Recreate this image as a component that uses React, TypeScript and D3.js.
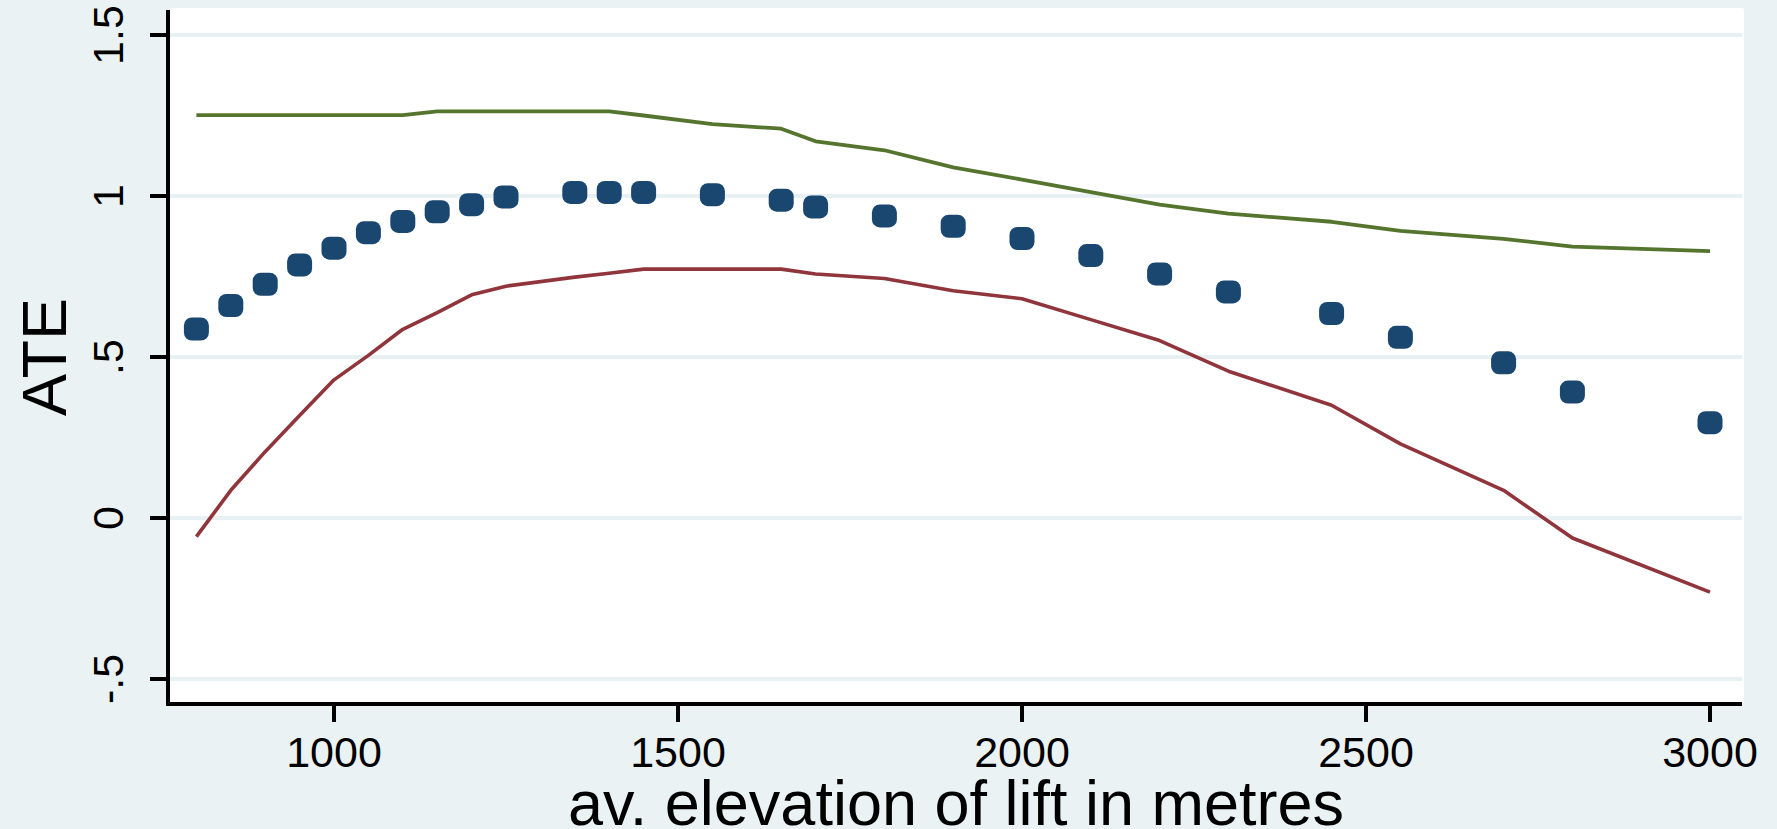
import React from "react";
import * as d3 from "d3";

const elevation = [800, 850, 900, 950, 1000, 1050, 1100, 1150, 1200, 1250, 1350, 1400, 1450, 1550, 1650, 1700, 1800, 1900, 2000, 2100, 2200, 2300, 2450, 2550, 2700, 2800, 3000];
const ate = [0.587, 0.660, 0.726, 0.786, 0.838, 0.886, 0.921, 0.951, 0.973, 0.997, 1.011, 1.011, 1.011, 1.004, 0.987, 0.966, 0.938, 0.906, 0.868, 0.815, 0.758, 0.702, 0.635, 0.561, 0.482, 0.391, 0.296];
const upperCI = [1.251, 1.251, 1.251, 1.251, 1.251, 1.251, 1.251, 1.263, 1.263, 1.263, 1.263, 1.263, 1.250, 1.223, 1.209, 1.170, 1.142, 1.089, 1.051, 1.012, 0.973, 0.945, 0.920, 0.892, 0.867, 0.843, 0.829];
const lowerCI = [-0.058, 0.086, 0.206, 0.318, 0.429, 0.505, 0.586, 0.638, 0.693, 0.720, 0.748, 0.760, 0.773, 0.773, 0.773, 0.758, 0.744, 0.706, 0.681, 0.616, 0.551, 0.456, 0.350, 0.230, 0.086, -0.062, -0.230];

const xTicks = [1000, 1500, 2000, 2500, 3000];
const yTicks = [-0.5, 0, 0.5, 1, 1.5];
const yTickLabels = ["-.5", "0", ".5", "1", "1.5"];
const xTitle = "av. elevation of lift in metres";
const yTitle = "ATE";

const W = 1777;
const H = 829;
const FONT = "'Liberation Sans', Arial, Helvetica, sans-serif";

export default function App() {
  const x = d3.scaleLinear().domain([1000, 3000]).range([334, 1710]);
  const y = d3.scaleLinear().domain([-0.5, 1.5]).range([679, 35]);

  const plotLeft = 168;
  const plotRight = 1744;
  const plotTop = 8;
  const plotBottom = 704;

  const line = d3
    .line<number>()
    .x((_, i) => x(elevation[i]))
    .y((d) => y(d));

  const mw = 25;
  const mh = 23;

  return (
    <svg
      width={W}
      height={H}
      viewBox={`0 0 ${W} ${H}`}
      style={{ position: "absolute", left: 0, top: 0, display: "block" }}
      fontFamily={FONT}
    >
      <rect x={0} y={0} width={W} height={H} fill="#eaf2f3" />
      <rect x={plotLeft} y={plotTop} width={plotRight - plotLeft} height={plotBottom - plotTop} rx={2} fill="#ffffff" />

      {yTicks.map((t) => (
        <line key={"g" + t} x1={plotLeft + 2} x2={plotRight - 2} y1={y(t)} y2={y(t)} stroke="#e7f0f2" strokeWidth={4} />
      ))}

      <path d={line(upperCI) || ""} fill="none" stroke="#55752f" strokeWidth={3.8} strokeLinejoin="round" />
      <path d={line(lowerCI) || ""} fill="none" stroke="#90353b" strokeWidth={3.6} strokeLinejoin="round" />

      {ate.map((v, i) => (
        <rect
          key={"m" + i}
          x={x(elevation[i]) - mw / 2}
          y={y(v) - mh / 2}
          width={mw}
          height={mh}
          rx={8}
          ry={8}
          fill="#1a476f"
        />
      ))}

      {/* axes */}
      <line x1={plotLeft} x2={plotLeft} y1={10} y2={plotBottom + 2} stroke="#000" strokeWidth={4} />
      <line x1={plotLeft - 2} x2={plotRight - 2} y1={plotBottom} y2={plotBottom} stroke="#000" strokeWidth={4} />

      {yTicks.map((t, i) => (
        <g key={"yt" + t}>
          <line x1={plotLeft - 18} x2={plotLeft} y1={y(t)} y2={y(t)} stroke="#000" strokeWidth={4} />
          <text
            transform={`translate(123,${y(t)}) rotate(-90)`}
            textAnchor="middle"
            fontSize={43}
            fill="#000"
          >
            {yTickLabels[i]}
          </text>
        </g>
      ))}

      {xTicks.map((t) => (
        <g key={"xt" + t}>
          <line x1={x(t)} x2={x(t)} y1={plotBottom} y2={plotBottom + 18} stroke="#000" strokeWidth={4} />
          <text x={x(t)} y={767} textAnchor="middle" fontSize={43} fill="#000">
            {t}
          </text>
        </g>
      ))}

      <text x={(plotLeft + plotRight) / 2} y={825} textAnchor="middle" fontSize={63} fill="#000">
        {xTitle}
      </text>
      <text transform={`translate(66,357) rotate(-90)`} textAnchor="middle" fontSize={63} fill="#000">
        {yTitle}
      </text>
    </svg>
  );
}
